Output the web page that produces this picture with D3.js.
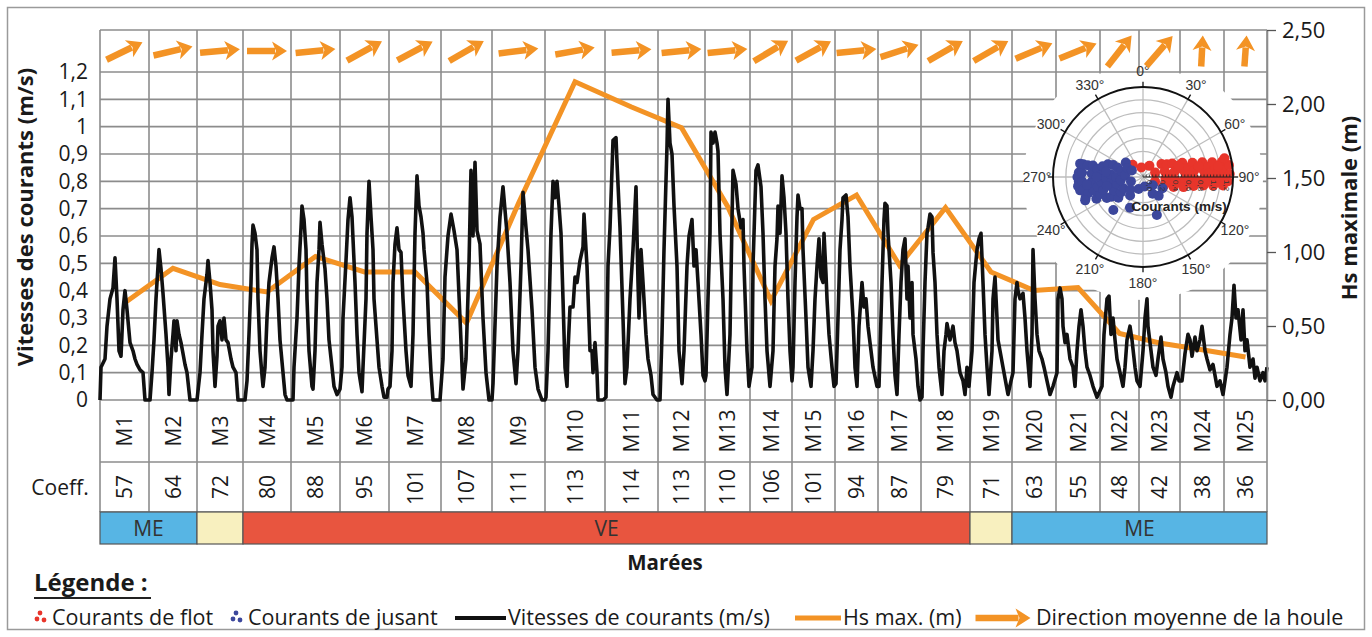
<!DOCTYPE html>
<html><head><meta charset="utf-8">
<script src="https://cdn.jsdelivr.net/npm/d3@7"></script>
<style>
body{margin:0;background:#fff}
svg{display:block}
text{font-family:"Open Sans",sans-serif;fill:#1a1a1a}
</style>
</head><body>
<svg id="chart" width="1372" height="637"></svg>
<script>
// ---------------- DATA ----------------
const tideLabels = ["M1","M2","M3","M4","M5","M6","M7","M8","M9","M10","M11","M12","M13","M14","M15","M16","M17","M18","M19","M20","M21","M22","M23","M24","M25"];
const coefficients = [57,64,72,80,88,95,101,107,111,113,114,113,110,106,101,94,87,79,71,63,55,48,42,38,36];
// tide boundaries (hours since start)
const tideBounds = [0,12.25,24.25,35.75,47.75,60,72.25,85.25,98,111.25,126.25,139.5,151.25,162.5,173,183.75,194.5,205.25,217.5,228,239,250,259.75,270,281,291.75];
// Hs max (m), one value per tide
const hsMax = [0.655,0.89,0.78,0.73,0.97,0.865,0.865,0.52,1.33,2.15,1.98,1.84,1.31,0.67,1.22,1.385,0.91,1.30,0.865,0.74,0.76,0.45,0.385,0.34,0.29];
// mean wave direction (bearing the arrow points to, degrees)
const waveDirection = [64,77,85,90,84,61,62,60,83,80,85,84,84,59,61,84,72,60,60,67,68,38,41,3,4];
// tide range classes
const tideClasses = [
  {label:"ME", from:0, to:2, color:"#57b5e4"},
  {label:"",   from:2, to:3, color:"#f8f0bf"},
  {label:"VE", from:3, to:18, color:"#e8553f"},
  {label:"",   from:18, to:19, color:"#f8f0bf"},
  {label:"ME", from:19, to:25, color:"#57b5e4"}
];
const speedTicks = [0,0.1,0.2,0.3,0.4,0.5,0.6,0.7,0.8,0.9,1,1.1,1.2];
const hsTicks = [0,0.5,1,1.5,2,2.5];
// current speed time series [hour, m/s]
const currentSpeed = [
[0,0],[0.25,0.12],[1.25,0.15],[1.75,0.27],[2.5,0.37],[3.25,0.41],[3.75,0.52],[4.25,0.37],[4.75,0.18],[5.25,0.16],[5.75,0.33],[6.25,0.40],[6.75,0.33],[7.5,0.21],[8.25,0.18],[8.75,0.15],[9.25,0.13],[10,0.11],[10.75,0.1],[11.25,0],[12.25,0],
[12.5,0],[13,0.1],[13.5,0.22],[14,0.37],[14.5,0.49],[14.75,0.55],[15.25,0.48],[15.75,0.39],[16.5,0.24],[17,0.12],[17.25,0.02],[17.75,0.15],[18.25,0.24],[18.5,0.29],[19,0.18],[19.25,0.29],[19.75,0.24],[20.25,0.21],[20.75,0.17],[21.25,0.13],[21.75,0.1],[22.5,0],[23.75,0],
[24.25,0],[25,0.1],[25.5,0.24],[26,0.37],[26.75,0.46],[27,0.51],[27.5,0.43],[28,0.33],[28.25,0.18],[28.75,0.05],[29.25,0.16],[29.5,0.27],[30,0.29],[30.5,0.22],[31,0.30],[31.5,0.22],[32,0.21],[32.75,0.15],[33.25,0.12],[34,0.1],[34.5,0],[35.75,0],
[36.25,0],[36.75,0.07],[37.25,0.24],[37.75,0.43],[38,0.57],[38.25,0.64],[38.75,0.61],[39.25,0.55],[39.5,0.37],[40,0.18],[40.5,0.09],[40.75,0.05],[41.25,0.12],[41.75,0.30],[42.25,0.43],[43,0.52],[43.5,0.56],[44,0.49],[44.5,0.37],[45,0.22],[45.75,0.1],[46.25,0.02],[46.75,0],[47.75,0],
[48.25,0],[48.5,0.12],[49.25,0.30],[49.75,0.49],[50.25,0.63],[50.5,0.71],[51,0.66],[51.5,0.55],[51.75,0.37],[52.25,0.18],[53,0.05],[53.25,0.04],[53.75,0.18],[54.25,0.43],[54.75,0.55],[55,0.65],[55.5,0.57],[55.75,0.54],[56.25,0.48],[56.75,0.37],[57.25,0.22],[58,0.12],[58.5,0.05],[59.25,0.02],[60,0.04],
[60.5,0.12],[60.75,0.30],[61.5,0.51],[62,0.66],[62.5,0.74],[63,0.67],[63.25,0.59],[63.75,0.43],[64.25,0.24],[64.75,0.1],[65.5,0.03],[65.75,0.12],[66.5,0.37],[66.75,0.61],[67.25,0.80],[67.75,0.67],[68.25,0.55],[68.5,0.37],[69.25,0.22],[69.75,0.12],[70.5,0.05],[71,0.01],[71.75,0.01],[72,0.04],
[72.5,0.05],[73,0.18],[73.25,0.43],[73.75,0.57],[74.25,0.63],[74.75,0.55],[75.25,0.54],[75.75,0.37],[76.5,0.18],[77,0.09],[77.75,0.05],[78.25,0.24],[78.75,0.61],[79.25,0.82],[79.75,0.71],[80.25,0.67],[80.75,0.61],[81,0.55],[81.75,0.43],[82.25,0.24],[82.75,0.1],[83.25,0],[85,0],
[85.75,0.15],[86.25,0.45],[87,0.6],[87.75,0.68],[88.5,0.62],[89.25,0.55],[90,0.3],[90.75,0.04],[91.5,0.15],[92.25,0.5],[92.75,0.84],[93.25,0.6],[93.75,0.87],[94.25,0.62],[95,0.57],[95.75,0.3],[96.5,0.1],[97.25,0],[98,0],
[98.25,0.06],[99.25,0.49],[100,0.67],[100.75,0.78],[101.75,0.61],[102.5,0.43],[103.25,0.18],[104,0.06],[104.5,0.18],[105.25,0.49],[105.75,0.76],[106.5,0.63],[107,0.55],[108,0.33],[108.75,0.12],[109.5,0.04],[110.5,0],[111.25,0],
[111.5,0.01],[112,0.18],[112.75,0.61],[113.25,0.80],[113.75,0.74],[114.25,0.80],[114.75,0.71],[115.25,0.61],[115.75,0.37],[116.25,0.12],[116.75,0.05],[117,0.18],[117.5,0.34],[118.25,0.34],[118.75,0.45],[119.25,0.43],[120,0.51],[120.75,0.56],[121,0.68],[121.5,0.55],[121.75,0.49],[122.5,0.18],[123,0.18],[123.25,0.1],[123.75,0.21],[124.25,0.1],[124.5,0],[125.75,0],
[126.5,0.01],[127,0.49],[127.5,0.63],[128.25,0.95],[129,0.96],[129.25,0.87],[130,0.63],[130.75,0.30],[131.25,0.06],[131.75,0.12],[132.5,0.37],[133.25,0.55],[134,0.78],[134.5,0.43],[134.75,0.30],[135.25,0.55],[135.75,0.43],[136.5,0.24],[137,0.15],[137.75,0.09],[138.25,0.02],[139.25,0],
[140,0],[140.5,0.24],[141,0.55],[141.75,0.93],[142,1.10],[142.5,0.94],[143,0.90],[143.5,0.71],[144.25,0.49],[144.75,0.18],[145.5,0.06],[146,0.18],[146.75,0.49],[147.25,0.6],[148,0.66],[148.5,0.49],[149,0.55],[149.5,0.43],[150.25,0.24],[150.75,0.09],[151.25,0.07],
[151.5,0.09],[152,0.37],[152.5,0.61],[152.75,0.98],[153.25,0.94],[153.75,0.98],[154.25,0.94],[154.5,0.91],[155,0.61],[155.75,0.37],[156.25,0.12],[156.75,0.02],[157.5,0.24],[158,0.66],[158.25,0.84],[159,0.79],[159.5,0.70],[160.25,0.63],[160.75,0.66],[161,0.49],[161.75,0.18],[162.25,0.05],
[163,0.12],[163.25,0.49],[164,0.84],[164.5,0.86],[165.25,0.78],[165.75,0.61],[166.25,0.37],[166.75,0.18],[167.5,0.05],[168.25,0.18],[168.75,0.49],[169.25,0.59],[169.5,0.71],[170,0.61],[170.5,0.82],[171,0.74],[171.5,0.61],[172,0.37],[172.5,0.18],[173,0.07],
[173.25,0.12],[173.75,0.43],[174.25,0.67],[174.5,0.75],[175,0.70],[175.5,0.70],[175.75,0.55],[176.5,0.30],[177,0.12],[177.75,0.05],[178.25,0.18],[178.75,0.37],[179.25,0.49],[179.75,0.59],[180.25,0.45],[180.75,0.43],[181,0.61],[181.5,0.46],[181.75,0.37],[182.25,0.24],[183,0.12],[183.5,0.05],
[184,0.06],[184.5,0.30],[185,0.55],[185.5,0.66],[185.75,0.74],[186.5,0.75],[187,0.67],[187.5,0.49],[188.25,0.30],[188.75,0.12],[189.25,0.05],[189.75,0.27],[190.5,0.43],[191,0.34],[191.5,0.37],[192,0.27],[192.75,0.18],[193.25,0.12],[194.25,0.05],
[194.75,0.05],[195.5,0.43],[196,0.66],[196.25,0.72],[196.75,0.71],[197,0.61],[197.75,0.43],[198.25,0.24],[198.75,0.09],[199.25,0.02],[199.75,0.24],[200.25,0.43],[200.75,0.55],[201.25,0.59],[201.75,0.37],[202,0.49],[202.5,0.30],[203,0.43],[203.25,0.24],[204,0.15],[204.5,0.05],[205,0],
[205.5,0.01],[205.75,0.18],[206.25,0.43],[206.75,0.61],[207,0.63],[207.5,0.68],[208,0.67],[208.25,0.54],[208.75,0.43],[209.25,0.24],[209.75,0.12],[210.5,0.02],[211,0.18],[211.5,0.24],[211.75,0.28],[212.5,0.22],[213.25,0.27],[213.75,0.21],[214.25,0.18],[215,0.1],[215.75,0.07],[216.25,0.02],[216.75,0.12],[217.25,0.05],
[218,0.18],[218.5,0.43],[219.25,0.55],[219.75,0.59],[220.25,0.61],[220.75,0.43],[221.25,0.24],[221.75,0.12],[222.25,0.02],[223,0.18],[223.25,0.37],[223.75,0.45],[224.25,0.30],[224.5,0.22],[225.25,0.16],[225.75,0.12],[226.5,0.06],[227,0.02],[227.75,0.07],
[228.25,0.1],[228.75,0.37],[229.25,0.43],[229.5,0.40],[230,0.37],[230.75,0.39],[231.25,0.30],[231.75,0.18],[232.5,0.05],[233,0.24],[233.25,0.55],[233.75,0.37],[234.25,0.24],[234.75,0.18],[235.5,0.15],[236,0.12],[236.75,0.07],[237.5,0.02],[238.25,0.05],
[239.25,0.1],[239.5,0.37],[240,0.41],[240.5,0.37],[240.75,0.27],[241.25,0.21],[241.75,0.24],[242.5,0.15],[243.25,0.12],[243.75,0.05],[244.25,0.18],[244.75,0.27],[245.25,0.33],[245.75,0.27],[246.25,0.18],[246.75,0.12],[247.5,0.09],[248.25,0.05],[249.25,0.01],
[250.5,0.05],[251,0.24],[251.75,0.37],[252.25,0.38],[252.75,0.24],[253.25,0.30],[253.75,0.22],[254.25,0.15],[255,0.1],[255.75,0.05],[256.25,0.12],[256.75,0.22],[257.5,0.27],[258,0.22],[258.75,0.12],[259.25,0.07],
[260,0.05],[260.75,0.18],[261.25,0.30],[261.75,0.37],[262,0.27],[262.75,0.18],[263.25,0.12],[264,0.09],[264.5,0.15],[265.25,0.23],[265.75,0.15],[266.5,0.1],[267,0.05],[267.75,0.01],[268.25,0.05],[269.25,0.1],[269.75,0.07],
[270.5,0.07],[271.25,0.17],[272,0.24],[272.5,0.22],[273,0.16],[273.75,0.23],[274.25,0.18],[275,0.22],[275.5,0.27],[276.25,0.18],[276.75,0.15],[277.5,0.11],[278.25,0.13],[278.75,0.09],[279.25,0.05],[280,0.07],[280.75,0.02],
[281.75,0.12],[282.5,0.24],[283,0.30],[283.5,0.42],[284,0.30],[284.5,0.33],[285.25,0.22],[285.75,0.33],[286.25,0.18],[286.75,0.22],[287.5,0.12],[288.25,0.15],[288.75,0.08],[289.25,0.12],[290,0.07],[290.75,0.1],[291.25,0.07],[291.75,0.12]
];
// polar scatter: [bearing deg, speed m/s]
const floodCurrents = [
[30,0.2],[70,0.2],[110,0.2],[320,0.25],[350,0.15],
[55,0.35],[75,0.35],[95,0.35],[115,0.35],
[62,0.42],[86,0.42],[102,0.42],
[65,0.5],[80,0.5],[95,0.5],[108,0.5],
[76,0.57],[99,0.57],
[70,0.65],[82,0.65],[93,0.65],[104,0.65],
[78,0.72],[96,0.72],
[74,0.8],[83,0.8],[92,0.8],[100,0.8],
[80,0.88],[95,0.88],
[76,0.95],[84,0.95],[91,0.95],[98,0.95],
[81,1.02],[94,1.02],
[78,1.1],[85,1.1],[91,1.1],[97,1.1],
[83,1.18],[88,1.18],
[79,1.25],[85,1.25],[90,1.25],[96,1.25],
[82,1.35],[88,1.35],[72,0.58],[88,0.72],[79,0.88],[87,1.02],[82,1.18],[94,1.18],[77,1.3],[93,1.32]
];
const ebbCurrents = [
[258,1.0],[266,1.0],[274,1.0],[282,1.0],[262,1.02],[270,1.02],
[250,0.95],[258,0.95],[266,0.95],[274,0.95],[282,0.95],
[254,0.88],[282,0.88],
[245,0.8],[255,0.8],[265,0.8],[274,0.8],[283,0.8],
[248,0.72],[258,0.72],[280,0.72],
[240,0.65],[252,0.65],[263,0.65],[273,0.65],[285,0.65],
[238,0.58],[268,0.58],[290,0.58],
[230,0.5],[245,0.5],[260,0.5],[275,0.5],[292,0.5],
[235,0.42],[255,0.42],[270,0.42],[290,0.42],
[215,0.35],[240,0.35],[262,0.35],[285,0.35],[310,0.35],
[225,0.28],[275,0.28],[300,0.28],
[200,0.2],[250,0.2],[300,0.2],
[150,0.3],[120,0.35],[130,0.2],[140,0.38],[170,0.15],
[222,0.69],[203,0.52],[160,0.63],[248,0.97],[262,0.88],[270,0.72],[278,0.58],[256,0.58]
];
const polarAngles = [0,30,60,90,120,150,180,210,240,270,300,330];
const polarRings = [0.2,0.4,0.6,0.8,1.0,1.2];

// ---------------- SETUP ----------------
const svg = d3.select("#chart");
const loc = d3.formatLocale({decimal:",",thousands:" ",grouping:[3],currency:["","€"]});
const fmtL = loc.format("~g"), fmtR = loc.format(".2f"), fmtP = loc.format(".1f");
const GRID = "#8c8c8c", ORANGE = "#f39325";

const x = d3.scaleLinear().domain([0, tideBounds[tideBounds.length-1]]).range([100, 1267]);
const yL = d3.scaleLinear().domain([0, 1.2]).range([400, 72]);
const yR = d3.scaleLinear().domain([0, 2.5]).range([400, 30]);
const mid = i => (x(tideBounds[i]) + x(tideBounds[i+1])) / 2;

svg.append("rect").attr("width",1372).attr("height",637).attr("fill","#fff");
svg.append("rect").attr("x",7.5).attr("y",7.5).attr("width",1357).attr("height",622)
  .attr("fill","none").attr("stroke","#9a9a9a").attr("stroke-width",1.5);

// grid
const g = svg.append("g");
g.selectAll(".h").data(speedTicks).join("line")
  .attr("x1",100).attr("x2",1267).attr("y1",d=>yL(d)).attr("y2",d=>yL(d))
  .attr("stroke",GRID).attr("stroke-width",1.6);
g.append("line").attr("x1",100).attr("x2",1267).attr("y1",yR(2.5)).attr("y2",yR(2.5)).attr("stroke",GRID).attr("stroke-width",1.6);
g.selectAll(".v").data(tideBounds).join("line")
  .attr("x1",d=>x(d)).attr("x2",d=>x(d)).attr("y1",yR(2.5)).attr("y2",512)
  .attr("stroke",GRID).attr("stroke-width",1.6);
[462,512].forEach(yy=>g.append("line").attr("x1",100).attr("x2",1267).attr("y1",yy).attr("y2",yy).attr("stroke",GRID).attr("stroke-width",1.6));

// white backdrop of the polar inset
const pcx = 1143, pcy = 177;
svg.append("clipPath").attr("id","bgclip").append("rect").attr("x",100).attr("y",73.5).attr("width",1166).attr("height",330);
svg.append("circle").attr("cx",pcx).attr("cy",pcy+3).attr("r",120).attr("fill","#fff").attr("clip-path","url(#bgclip)");

// polar inset
const rP = d3.scaleLinear().domain([0,1.4]).range([0,90]);
const pg = svg.append("g").attr("transform",`translate(${pcx},${pcy})`);
const pxy = (b,s)=>[rP(s)*Math.sin(b*Math.PI/180), -rP(s)*Math.cos(b*Math.PI/180)];
pg.selectAll(".ring").data(polarRings).join("circle").attr("r",d=>rP(d)).attr("fill","none").attr("stroke","#bdbdbd").attr("stroke-width",1.3);
pg.selectAll(".spoke").data(polarAngles).join("line")
  .attr("x2",d=>pxy(d,1.4)[0]).attr("y2",d=>pxy(d,1.4)[1]).attr("stroke","#bdbdbd").attr("stroke-width",1.3);
pg.selectAll(".fl").data(floodCurrents).join("circle")
  .attr("cx",d=>pxy(d[0],d[1])[0]).attr("cy",d=>pxy(d[0],d[1])[1]).attr("r",5).attr("fill","#e8352b");
pg.selectAll(".eb").data(ebbCurrents).join("circle")
  .attr("cx",d=>pxy(d[0],d[1])[0]).attr("cy",d=>pxy(d[0],d[1])[1]).attr("r",5).attr("fill","#3c479c");
pg.append("circle").attr("r",rP(1.4)).attr("fill","none").attr("stroke","#111").attr("stroke-width",2);
pg.selectAll(".tk").data(polarAngles).join("line")
  .attr("x1",d=>pxy(d,1.4)[0]).attr("y1",d=>pxy(d,1.4)[1])
  .attr("x2",d=>pxy(d,1.48)[0]).attr("y2",d=>pxy(d,1.48)[1]).attr("stroke","#111").attr("stroke-width",1.3);
pg.selectAll(".al").data(polarAngles).join("text")
  .attr("x",d=>pxy(d,1.65)[0]).attr("y",d=>pxy(d,1.65)[1]).attr("dy","0.35em")
  .attr("text-anchor","middle").style("font-family","'Liberation Sans',Arial,sans-serif").style("font-size","14px").style("fill","#333")
  .text(d=>d+"°");
// radial axis along 90°
pg.append("line").attr("x1",0).attr("x2",rP(1.4)).attr("y1",0).attr("y2",0).attr("stroke","#222").attr("stroke-width",1);
pg.selectAll(".rt").data(d3.range(0,29).map(i=>i*0.05)).join("line")
  .attr("x1",d=>rP(d)).attr("x2",d=>rP(d)).attr("y1",-2.5).attr("y2",0).attr("stroke","#222").attr("stroke-width",0.8);
pg.selectAll(".rl").data([0,0.2,0.4,0.6,0.8,1.0,1.2]).join("text")
  .attr("transform",d=>`translate(${rP(d)+4},3) rotate(90)`)
  .style("font-family","'Liberation Sans',Arial,sans-serif").style("font-size","8px").style("fill","#333")
  .text(d=>fmtP(d));
pg.append("text").attr("x",36).attr("y",34).attr("text-anchor","middle")
  .style("font-family","'Liberation Sans',Arial,sans-serif").style("font-size","13.5px").style("font-weight","bold").style("fill","#222")
  .text("Courants (m/s)");

// Hs max line
svg.append("path").datum(hsMax).attr("fill","none").attr("stroke",ORANGE).attr("stroke-width",5)
  .attr("d", d3.line().x((d,i)=>mid(i)).y(d=>yR(d)));
// current speed line
svg.append("path").datum(currentSpeed).attr("fill","none").attr("stroke","#111").attr("stroke-width",3.6)
  .attr("stroke-linejoin","round")
  .attr("d", d3.line().x(d=>x(d[0])).y(d=>yL(d[1])));

// arrows
function arrow(sel, cx, cy, b, L){
  const r = b*Math.PI/180, ux=Math.sin(r), uy=-Math.cos(r), nx=Math.cos(r), ny=Math.sin(r);
  const hl=15, hw=9.5;
  const tx=cx-ux*L/2, ty=cy-uy*L/2, px=cx+ux*L/2, py=cy+uy*L/2;
  const bx=px-ux*hl, by=py-uy*hl;
  sel.append("line").attr("x1",tx).attr("y1",ty).attr("x2",bx+ux*3).attr("y2",by+uy*3)
    .attr("stroke",ORANGE).attr("stroke-width",6.5);
  sel.append("path").attr("d",`M${px},${py}L${bx+nx*hw},${by+ny*hw}L${bx+ux*4},${by+uy*4}L${bx-nx*hw},${by-ny*hw}Z`).attr("fill",ORANGE);
}
const ag = svg.append("g");
waveDirection.forEach((b,i)=>{
  const L = Math.min(40, 31/Math.max(0.01,Math.abs(Math.cos(b*Math.PI/180))));
  arrow(ag, mid(i), (yR(2.5)+yL(1.2))/2, b, L);
});

// axes
const axL = svg.append("g").attr("transform","translate(100,0)")
  .call(d3.axisLeft(yL).tickValues(speedTicks).tickFormat(fmtL).tickSize(0).tickPadding(12));
axL.select(".domain").remove();
axL.selectAll("text").style("font-size","21px").style("font-family","'Open Sans',sans-serif").attr("fill","#1a1a1a");
const axR = svg.append("g").attr("transform","translate(1267,0)")
  .call(d3.axisRight(yR).tickValues(hsTicks).tickFormat(fmtR).tickSize(9).tickPadding(6).tickSizeOuter(0));
axR.select(".domain").attr("stroke",GRID).attr("stroke-width",1.6);
axR.selectAll(".tick line").attr("stroke","#555").attr("stroke-width",1.3);
axR.selectAll("text").style("font-size","22px").style("font-family","'Open Sans',sans-serif").attr("fill","#1a1a1a");

svg.append("text").attr("transform","translate(33,217) rotate(-90)").attr("text-anchor","middle")
  .style("font-size","22px").style("font-weight","bold").text("Vitesses des courants (m/s)");
svg.append("text").attr("transform","translate(1357,208) rotate(-90)").attr("text-anchor","middle")
  .style("font-size","22px").style("font-weight","bold").text("Hs maximale (m)");

// table
const tg = svg.append("g");
tg.selectAll(".ml").data(tideLabels).join("text")
  .attr("transform",(d,i)=>`translate(${mid(i)},431) rotate(-90)`).attr("text-anchor","middle").attr("dy","0.36em")
  .style("font-size","21px").text(d=>d);
tg.selectAll(".cf").data(coefficients).join("text")
  .attr("transform",(d,i)=>`translate(${mid(i)},487) rotate(-90)`).attr("text-anchor","middle").attr("dy","0.36em")
  .style("font-size","21px").text(d=>d);
tg.append("text").attr("x",60).attr("y",487).attr("dy","0.36em").attr("text-anchor","middle").style("font-size","21px").text("Coeff.");

const bg = svg.append("g");
bg.selectAll("rect").data(tideClasses).join("rect")
  .attr("x",d=>x(tideBounds[d.from])).attr("width",d=>x(tideBounds[d.to])-x(tideBounds[d.from]))
  .attr("y",512).attr("height",32).attr("fill",d=>d.color).attr("stroke","#555").attr("stroke-width",1.2);
bg.selectAll("text").data(tideClasses).join("text")
  .attr("x",d=>(x(tideBounds[d.from])+x(tideBounds[d.to]))/2).attr("y",528).attr("dy","0.36em")
  .attr("text-anchor","middle").style("font-size","21px").style("fill","#333").text(d=>d.label);

svg.append("text").attr("x",665).attr("y",563).attr("dy","0.36em").attr("text-anchor","middle")
  .style("font-size","20.5px").style("font-weight","bold").text("Marées");

// legend
svg.append("text").attr("x",34).attr("y",591).style("font-size","24px").style("font-weight","bold").text("Légende :");
svg.append("line").attr("x1",34).attr("x2",151).attr("y1",598).attr("y2",598).attr("stroke","#222").attr("stroke-width",2);
const lg = svg.append("g");
function dots(cx, col){
  [[0,-5],[-3,1],[4,2]].forEach(p=>lg.append("circle").attr("cx",cx+p[0]).attr("cy",618+p[1]).attr("r",2.4).attr("fill",col));
}
dots(40,"#e8352b"); dots(236,"#3c479c");
const ly = 625;
const lfs = "21.5px";
lg.append("text").attr("x",52).attr("y",ly).style("font-size",lfs).text("Courants de flot");
lg.append("text").attr("x",248).attr("y",ly).style("font-size",lfs).text("Courants de jusant");
lg.append("line").attr("x1",455).attr("x2",506).attr("y1",618).attr("y2",618).attr("stroke","#111").attr("stroke-width",4);
lg.append("text").attr("x",508).attr("y",ly).style("font-size",lfs).text("Vitesses de courants (m/s)");
lg.append("line").attr("x1",795).attr("x2",841).attr("y1",618).attr("y2",618).attr("stroke",ORANGE).attr("stroke-width",5);
lg.append("text").attr("x",843).attr("y",ly).style("font-size",lfs).text("Hs max. (m)");
arrow(lg, 1003, 618, 90, 55);
lg.append("text").attr("x",1036).attr("y",ly).style("font-size",lfs).text("Direction moyenne de la houle");
</script>
</body></html>
